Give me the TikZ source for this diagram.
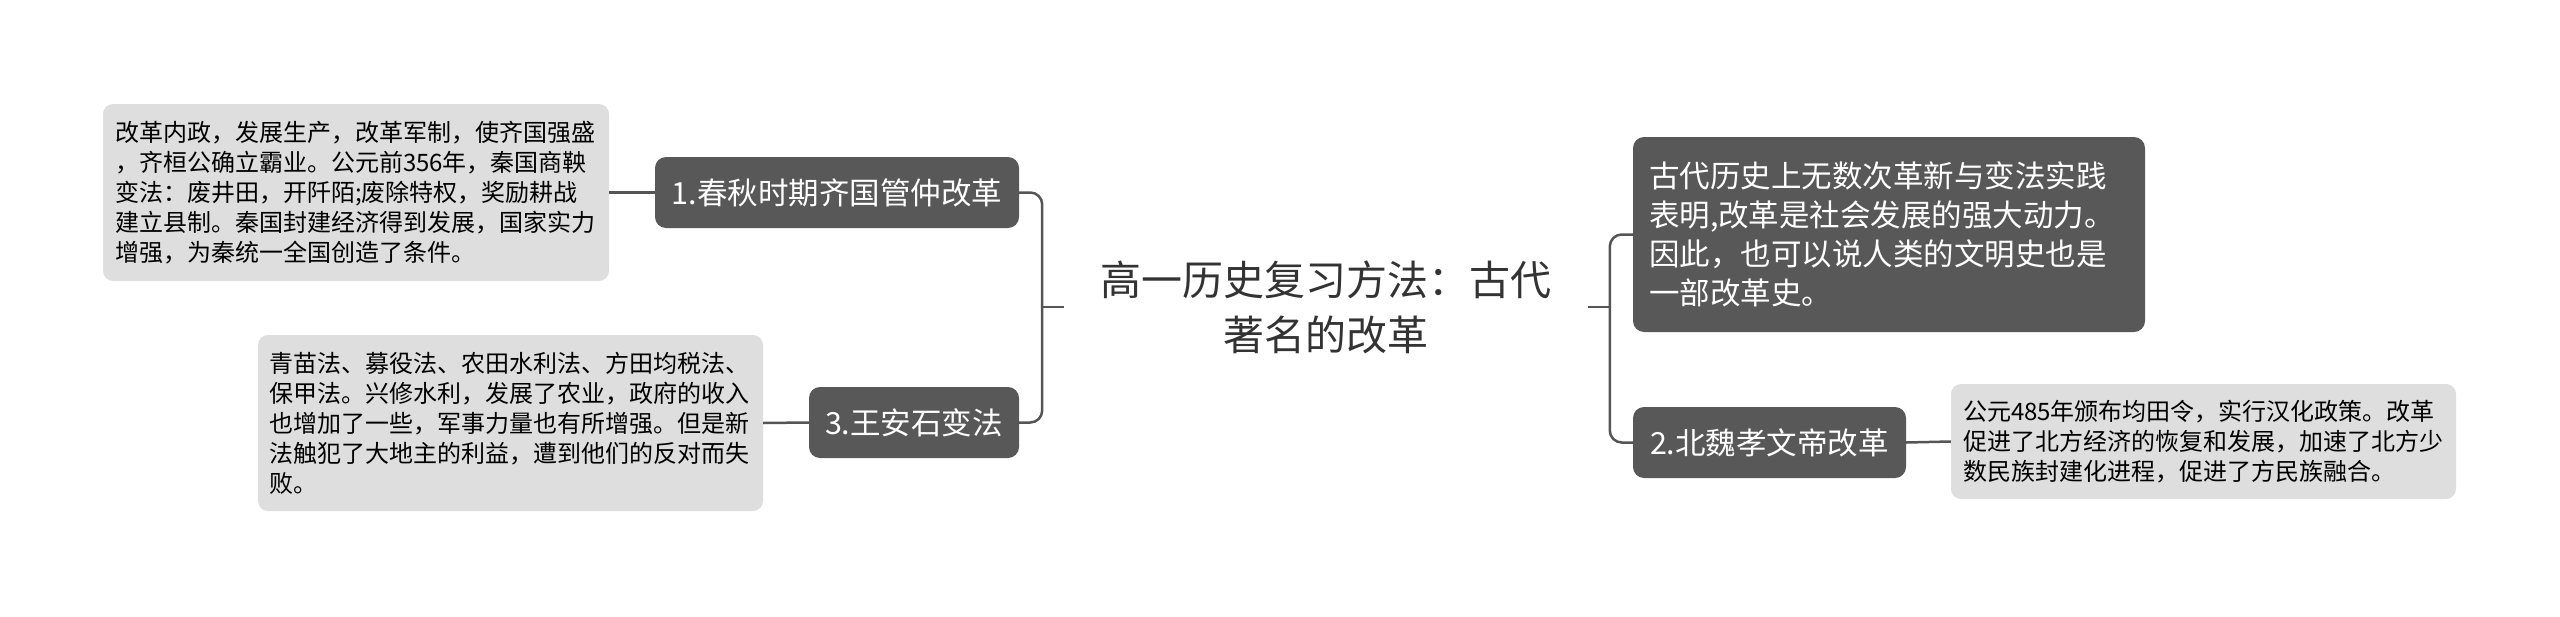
\documentclass[tikz,border=0pt]{standalone}
\usepackage{fontspec}
\newfontfamily\cjk{Noto Sans CJK SC}
\definecolor{darkfill}{HTML}{585858}
\definecolor{leaffill}{HTML}{DEDEDE}
\definecolor{linecol}{HTML}{555555}
\definecolor{titlecol}{HTML}{333333}
\begin{document}
\begin{tikzpicture}[x=1pt,y=-1pt,
 darkbox/.style={fill=darkfill, text=white, rounded corners=11pt, font=\cjk\fontsize{30.5}{39}\selectfont, inner sep=0pt, align=left},
 leafbox/.style={fill=leaffill, text=black, rounded corners=10pt, font=\cjk\fontsize{24}{30}\selectfont, inner ysep=0pt, align=left},
 conn/.style={draw=linecol, line width=2.5pt}]
\useasboundingbox[fill=white] (0,0) rectangle (2560,616);

% centre
\node[font=\cjk\fontsize{41}{55}\selectfont, text=titlecol, align=center, inner xsep=0pt, inner ysep=0pt, minimum width=524pt] (title) at (1326,307) {高一历史复习方法：古代\\著名的改革};

% left branch
\node[darkbox, minimum width=364pt, minimum height=71pt, align=center] (n1) at (837,192.5) {1.春秋时期齐国管仲改革};
\node[darkbox, minimum width=210pt, minimum height=71pt, align=center] (n3) at (914,422.5) {3.王安石变法};

\node[leafbox, text width=482pt, inner xsep=12pt, minimum height=177pt] (l1) at (356,192.5) {改革内政，发展生产，改革军制，使齐国强盛\\，齐桓公确立霸业。公元前356年，秦国商鞅\\变法：废井田，开阡陌;废除特权，奖励耕战\\建立县制。秦国封建经济得到发展，国家实力\\增强，为秦统一全国创造了条件。};
\node[leafbox, text width=482pt, inner xsep=11.5pt, minimum height=176pt] (l3) at (510.5,423) {青苗法、募役法、农田水利法、方田均税法、\\保甲法。兴修水利，发展了农业，政府的收入\\也增加了一些，军事力量也有所增强。但是新\\法触犯了大地主的利益，遭到他们的反对而失\\败。};

% right branch
\node[darkbox, text width=480pt, inner xsep=16pt, minimum height=195pt] (r1) at (1889,234.5) {古代历史上无数次革新与变法实践\\表明,改革是社会发展的强大动力。\\因此，也可以说人类的文明史也是\\一部改革史。};
\node[darkbox, minimum width=273pt, minimum height=71pt, align=center] (r2) at (1769.5,442.5) {2.北魏孝文帝改革};
\node[leafbox, text width=481pt, inner xsep=12pt, minimum height=115pt] (l2) at (2203.5,441.5) {公元485年颁布均田令，实行汉化政策。改革\\促进了北方经济的恢复和发展，加速了北方少\\数民族封建化进程，促进了方民族融合。};

% connectors
\coordinate (jl) at (1042,307);
\coordinate (jr) at (1610,307);
\draw[conn] (title.west) -- (jl);
\draw[conn] (title.east) -- (jr);
\draw[conn, rounded corners=12pt] (n1.east) -- ++(23,0) |- (n3.east);
\draw[conn, rounded corners=12pt] (r1.west) -- ++(-23,0) |- (r2.west);
\draw[conn] (l1.east) -- (n1.west);
\draw[conn] (l3.east) -- (n3.west);
\draw[conn] (r2.east) -- (l2.west);
\end{tikzpicture}
\end{document}
